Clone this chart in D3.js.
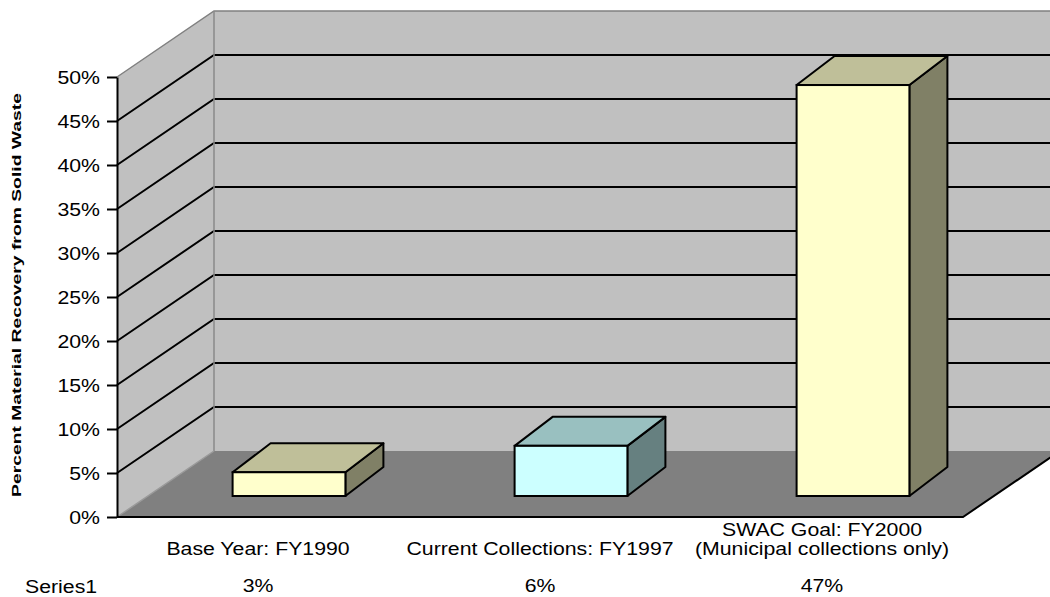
<!DOCTYPE html>
<html>
<head>
<meta charset="utf-8">
<script src="https://cdn.jsdelivr.net/npm/d3@7"></script>
<style>
  html, body { margin: 0; padding: 0; background: #ffffff; }
  svg { display: block; font-family: "Liberation Sans", Arial, sans-serif; }
</style>
</head>
<body>
<svg id="chart" width="1050" height="597"></svg>
<script>
// ---- data ----
const categories = ["Base Year: FY1990", "Current Collections: FY1997", "SWAC Goal: FY2000\n(Municipal collections only)"];
const values = [0.027, 0.057, 0.467];
const seriesName = "Series1";
const yTicks = [0, 0.05, 0.10, 0.15, 0.20, 0.25, 0.30, 0.35, 0.40, 0.45, 0.50];
const yTitle = "Percent Material Recovery from Solid Waste";

// ---- style / layout ----
const frontFill = ["#ffffcc", "#ccffff", "#ffffcc"];
const topFill   = ["#bfbf99", "#99c0c0", "#bfbf99"];
const sideFill  = ["#808066", "#668080", "#808066"];
const SX = 1.15;            // horizontal text stretch of the original
const FS = 18.5;

const plotL = 117, plotR = 963, plotB = 517, plotT = 77;
const DX = 97, DY = -66;    // full depth offset of walls
const FZX = 31, FZY = -21;  // offset of bar front plane
const BDX = 38, BDY = -29;  // bar depth

const svg = d3.select("#chart");
const pts = a => a.map(p => p.join(",")).join(" ");

const y = d3.scaleLinear().domain([0, 0.5]).range([plotB, plotT]);
const x = d3.scaleBand().domain(categories).range([plotL, plotR]).paddingInner(0.6).paddingOuter(0.3);

const yMax = y(0.5);

// back wall
svg.append("rect")
  .attr("x", plotL + DX).attr("y", yMax + DY)
  .attr("width", 1050 - (plotL + DX) + 20).attr("height", plotB - yMax)
  .attr("fill", "#c0c0c0");

// left wall
svg.append("polygon")
  .attr("points", pts([[plotL, yMax], [plotL + DX, yMax + DY], [plotL + DX, plotB + DY], [plotL, plotB]]))
  .attr("fill", "#c0c0c0");

// floor
svg.append("polygon")
  .attr("points", pts([[plotL, plotB], [plotR, plotB], [plotR + DX, plotB + DY], [plotL + DX, plotB + DY]]))
  .attr("fill", "#808080");

// gridlines (left wall + back wall)
const gridVals = yTicks.filter(t => t > 0 && t < 0.5);
svg.append("g").selectAll("polyline").data(gridVals).join("polyline")
  .attr("points", d => pts([[plotL, y(d)], [plotL + DX, y(d) + DY], [1060, y(d) + DY]]))
  .attr("fill", "none").attr("stroke", "#000").attr("stroke-width", 2);

// wall edges (gray)
svg.append("polyline")
  .attr("points", pts([[plotL, yMax], [plotL + DX, yMax + DY], [1060, yMax + DY]]))
  .attr("fill", "none").attr("stroke", "#808080").attr("stroke-width", 1.5);
svg.append("line")
  .attr("x1", plotL + DX).attr("y1", yMax + DY).attr("x2", plotL + DX).attr("y2", plotB + DY)
  .attr("stroke", "#8a8a8a").attr("stroke-width", 1.5);
svg.append("line")
  .attr("x1", plotL).attr("y1", plotB).attr("x2", plotL + DX).attr("y2", plotB + DY)
  .attr("stroke", "#9a9a9a").attr("stroke-width", 1.5);

// floor front & right edges
svg.append("polyline")
  .attr("points", pts([[plotL, plotB], [plotR, plotB], [plotR + DX, plotB + DY]]))
  .attr("fill", "none").attr("stroke", "#000").attr("stroke-width", 2);

// bars
const bars = svg.append("g").selectAll("g").data(values).join("g");
bars.each(function (v, i) {
  const g = d3.select(this);
  const x0 = x(categories[i]) + FZX;
  const x1 = x0 + x.bandwidth();
  const yb = y(0) + FZY;
  const yt = y(v) + FZY;
  g.append("polygon")
    .attr("points", pts([[x1, yt], [x1 + BDX, yt + BDY], [x1 + BDX, yb + BDY], [x1, yb]]))
    .attr("fill", sideFill[i]).attr("stroke", "#000").attr("stroke-width", 2).attr("stroke-linejoin", "round");
  g.append("polygon")
    .attr("points", pts([[x0, yt], [x0 + BDX, yt + BDY], [x1 + BDX, yt + BDY], [x1, yt]]))
    .attr("fill", topFill[i]).attr("stroke", "#000").attr("stroke-width", 2).attr("stroke-linejoin", "round");
  g.append("rect")
    .attr("x", x0).attr("y", yt).attr("width", x1 - x0).attr("height", yb - yt)
    .attr("fill", frontFill[i]).attr("stroke", "#000").attr("stroke-width", 2);
});

// y axis
const axis = svg.append("g").attr("transform", `translate(${plotL},0)`)
  .call(d3.axisLeft(y).tickValues(yTicks).tickFormat(d3.format(".0%")).tickSize(10).tickSizeOuter(0));
axis.select(".domain").attr("stroke", "#000").attr("stroke-width", 2);
axis.selectAll(".tick line").attr("stroke", "#000").attr("stroke-width", 2);
axis.selectAll(".tick text")
  .attr("font-size", FS).attr("font-family", "Liberation Sans, Arial, sans-serif").attr("fill", "#000")
  .attr("x", -17 / SX).attr("dy", "0.36em")
  .attr("transform", `scale(${SX},1)`);

// y title
svg.append("text")
  .attr("transform", "translate(21,295) rotate(-90)")
  .attr("text-anchor", "middle")
  .attr("font-size", 12).attr("font-weight", "bold")
  .attr("textLength", 404).attr("lengthAdjust", "spacingAndGlyphs")
  .text(yTitle);

// category labels (one text element per line)
const catLines = [];
categories.forEach(c => {
  const lines = c.split("\n");
  lines.forEach((line, k) => catLines.push({ cat: c, line, k, n: lines.length }));
});
svg.append("g").selectAll("text").data(catLines).join("text")
  .attr("text-anchor", "middle").attr("font-size", FS).attr("fill", "#000")
  .attr("transform", d => `translate(${x(d.cat) + x.bandwidth() / 2},${555 - (d.n - 1 - d.k) * 19}) scale(${SX},1)`)
  .text(d => d.line);

// data table row
svg.append("text")
  .attr("transform", `translate(25,593) scale(${SX},1)`)
  .attr("font-size", FS).attr("fill", "#000").text(seriesName);
svg.append("g").selectAll("text").data(values).join("text")
  .attr("text-anchor", "middle").attr("font-size", FS).attr("fill", "#000")
  .attr("transform", (d, i) => `translate(${x(categories[i]) + x.bandwidth() / 2},592) scale(${SX},1)`)
  .text(d => d3.format(".0%")(d));
</script>
</body>
</html>
